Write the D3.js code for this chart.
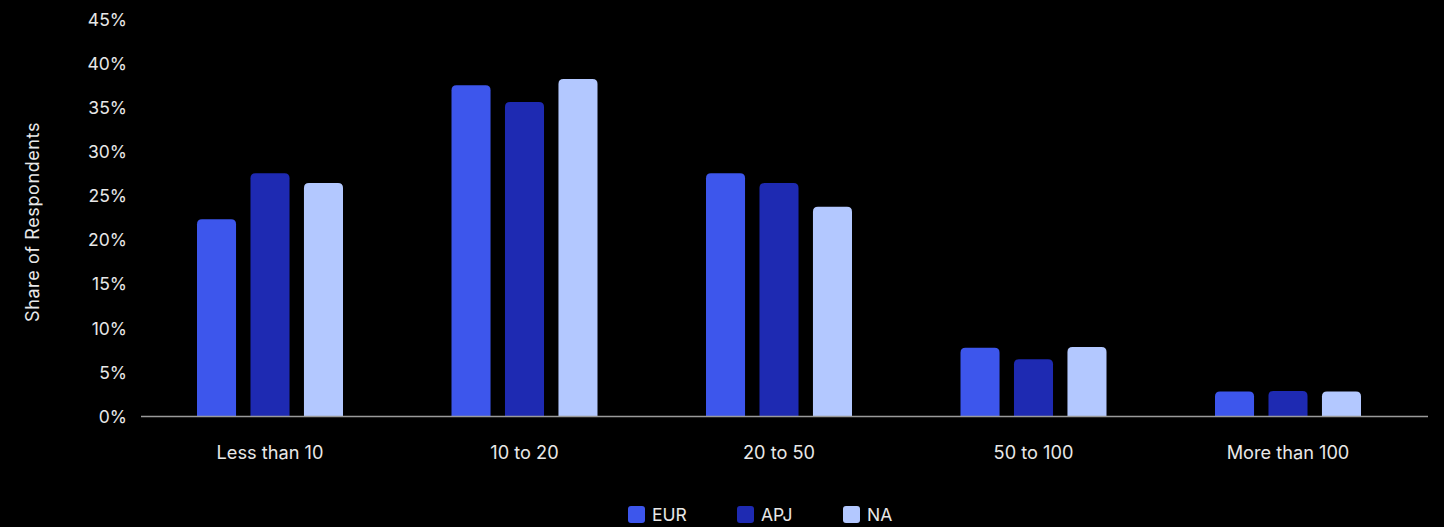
<!DOCTYPE html>
<html><head><meta charset="utf-8">
<script src="https://cdn.jsdelivr.net/npm/d3@7"></script>
<style>
html,body{margin:0;padding:0;background:#000;}
svg{display:block;}
text{font-family:Inter, "Open Sans", sans-serif;fill:#e8e8e8;}
</style></head>
<body>
<svg id="chart" width="1444" height="527"></svg>
<script>
const categories = ["Less than 10", "10 to 20", "20 to 50", "50 to 100", "More than 100"];
const seriesNames = ["EUR", "APJ", "NA"];
const EUR = [22.4, 37.6, 27.6, 7.8, 2.85];
const APJ = [27.6, 35.7, 26.5, 6.5, 2.9];
const NA  = [26.5, 38.3, 23.8, 7.9, 2.85];
const colors = ["#3d56ec", "#1e2ab2", "#b3c8ff"];
const yTicks = [0,5,10,15,20,25,30,35,40,45];

const series = [EUR, APJ, NA];
const svg = d3.select("#chart");
const m = {left:141, right:1428, top:20, bottom:416.5};

const x = d3.scaleBand().domain(categories).range([142.75, 1415.25]).paddingInner(0).paddingOuter(0);
const x1 = d3.scaleBand().domain(seriesNames).range([0, 146]).paddingInner(0.27).paddingOuter(0);
const y = d3.scaleLinear().domain([0,45]).range([m.bottom, m.top]);

// y tick labels
svg.append("g").selectAll("text").data(yTicks).join("text")
  .attr("x", 127).attr("y", d=>y(d)).attr("dy","0.35em")
  .attr("text-anchor","end").attr("font-size",17.5).text(d=>d+"%");

// y axis title
svg.append("text").attr("transform","translate(39,222) rotate(-90)")
  .attr("text-anchor","middle").attr("font-size",18).attr("letter-spacing","0.6px").text("Share of Respondents");

// bars with rounded tops
function barPath(x0, w, yTop, yBot, r){
  r = Math.min(r, (yBot-yTop), w/2);
  return `M${x0},${yBot}V${yTop+r}Q${x0},${yTop} ${x0+r},${yTop}H${x0+w-r}Q${x0+w},${yTop} ${x0+w},${yTop+r}V${yBot}Z`;
}
const g = svg.append("g");
categories.forEach((c,i)=>{
  const gx = x(c) + x.bandwidth()/2 - 73;
  seriesNames.forEach((s,j)=>{
    g.append("path")
      .attr("d", barPath(gx + x1(s), x1.bandwidth(), y(series[j][i]), y(0), 5))
      .attr("fill", colors[j]);
  });
});

// baseline
svg.append("line").attr("x1",m.left).attr("x2",m.right).attr("y1",y(0)).attr("y2",y(0))
  .attr("stroke","#9a9a9a").attr("stroke-width",1.5);

// x labels
svg.append("g").selectAll("text").data(categories).join("text")
  .attr("x", d=>x(d)+x.bandwidth()/2).attr("y", 453).attr("dy","0.35em")
  .attr("text-anchor","middle").attr("font-size",18.2).text(d=>d);

// legend
const legX = [628, 737, 843];
const leg = svg.append("g");
seriesNames.forEach((s,j)=>{
  leg.append("rect").attr("x",legX[j]).attr("y",506).attr("width",17).attr("height",17)
    .attr("rx",3).attr("fill",colors[j]);
  leg.append("text").attr("x",legX[j]+24).attr("y",515).attr("dy","0.35em")
    .attr("font-size",17.5).text(s);
});
</script>
</body></html>
